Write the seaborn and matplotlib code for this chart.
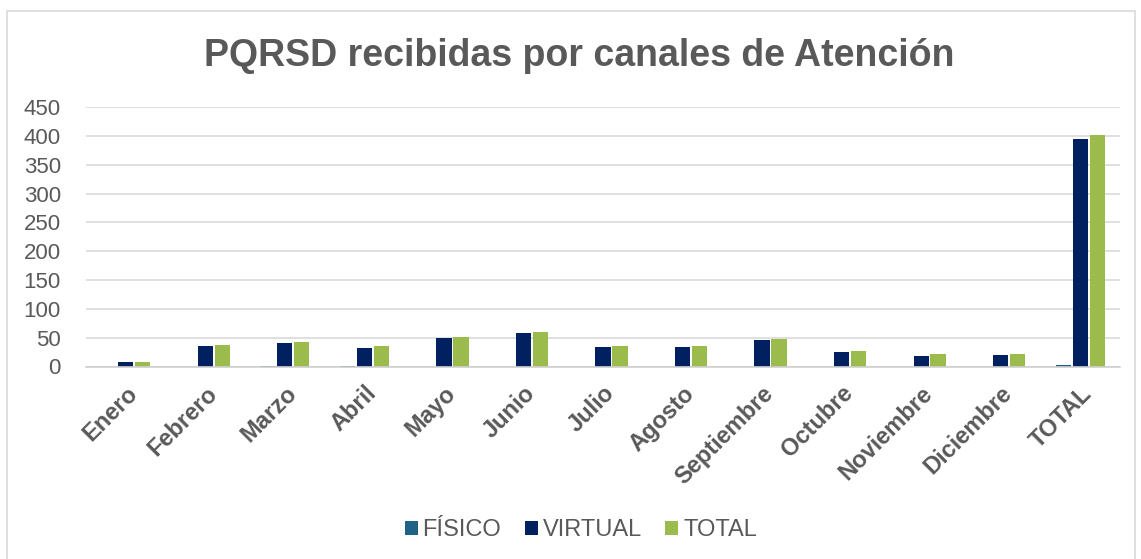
import matplotlib
matplotlib.use("Agg")
import matplotlib.pyplot as plt
import seaborn as sns
import pandas as pd
from matplotlib.patches import Rectangle

categories = ["Enero", "Febrero", "Marzo", "Abril", "Mayo", "Junio", "Julio",
              "Agosto", "Septiembre", "Octubre", "Noviembre", "Diciembre", "TOTAL"]
fisico = [0, 0, 1, 1, 0, 0, 0, 0, 0, 0, 0, 0, 3]
virtual = [7, 35, 40, 32, 49, 58, 34, 33, 46, 25, 19, 20, 395]
total = [8, 37, 42, 35, 51, 60, 36, 35, 48, 27, 21, 22, 401]
series_names = ["FÍSICO", "VIRTUAL", "TOTAL"]
yticks = [0, 50, 100, 150, 200, 250, 300, 350, 400, 450]
title = "PQRSD recibidas por canales de Atención"

df = pd.DataFrame({
    "mes": categories * 3,
    "serie": [series_names[0]] * 13 + [series_names[1]] * 13 + [series_names[2]] * 13,
    "valor": fisico + virtual + total,
})

sns.set_theme(style="white")
plt.rcParams["font.family"] = ["Liberation Sans", "DejaVu Sans"]
text_color = "#595959"

fig = plt.figure(figsize=(11.41, 5.59), dpi=100)
fig.patches.append(Rectangle((7 / 1141, -0.01), 1128 / 1141, (559 - 11) / 559 + 0.01,
                             transform=fig.transFigure, fill=False,
                             edgecolor="#D9D9D9", linewidth=1.2))
ax = fig.add_axes([86 / 1141, 1 - 366.5 / 559, (1120 - 86) / 1141, (366.5 - 107) / 559])

palette = {"FÍSICO": "#1F6286", "VIRTUAL": "#002060", "TOTAL": "#9BBB4C"}
sns.barplot(data=df, x="mes", y="valor", hue="serie", hue_order=series_names,
            order=categories, palette=palette, width=0.64, gap=0.1,
            saturation=1, ax=ax, legend=True, linewidth=0)

ax.set_ylim(0, 450)
ax.set_yticks(yticks)
ax.set_xlim(-0.5, len(categories) - 0.5)
ax.yaxis.grid(True, color="#D9D9D9", linewidth=1.2)
ax.set_axisbelow(True)
for s in ["left", "right", "top"]:
    ax.spines[s].set_visible(False)
ax.spines["bottom"].set_color("#D0D0D0")
ax.spines["bottom"].set_linewidth(1.2)
ax.tick_params(axis="both", length=0)
ax.tick_params(axis="y", labelsize=16, labelcolor=text_color, pad=18)
ax.set_xlabel("")
ax.set_ylabel("")
ax.set_xticks(range(len(categories)))
ax.set_xticklabels(categories, rotation=45, ha="right", rotation_mode="anchor",
                   fontsize=17, fontweight="bold", color=text_color)
ax.tick_params(axis="x", pad=11)

fig.text(0.508, 1 - 56 / 559, title, ha="center", va="center", fontsize=27,
         fontweight="bold", color=text_color)

leg = ax.legend(loc="center", bbox_to_anchor=(0.509, 1 - 530 / 559), bbox_transform=fig.transFigure,
                ncol=3, frameon=False, fontsize=17, handlelength=0.55, handleheight=0.55,
                handletextpad=0.2, columnspacing=1.0)
for t in leg.get_texts():
    t.set_color(text_color)

fig.savefig("out.png", dpi=100)
